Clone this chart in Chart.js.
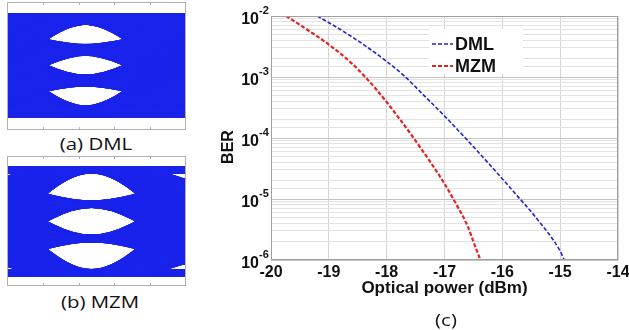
<!DOCTYPE html>
<html>
<head>
<meta charset="utf-8">
<script src="https://cdn.jsdelivr.net/npm/chart.js@4.4.1/dist/chart.umd.min.js"></script>
<style>
html, body { margin: 0; padding: 0; background: #fff; }
#wrap { position: relative; width: 629px; height: 330px; overflow: hidden; }
canvas { position: absolute; }
.cap { position: absolute; font-family: "Open Sans", sans-serif; font-size: 17px; color: #111;
       white-space: nowrap; transform: translate(-50%, -50%) scaleX(1.2); }
</style>
</head>
<body>
<div id="wrap">
  <canvas id="eyeA" width="179" height="128" style="left:7px;top:2px"></canvas>
  <canvas id="eyeB" width="179" height="130" style="left:7px;top:156px"></canvas>
  <canvas id="ber" width="424" height="330" style="left:205px;top:0"></canvas>
  <div class="cap" style="left:96px;top:143px">(a) DML</div>
  <div class="cap" style="left:100px;top:301px">(b) MZM</div>
  <div class="cap" style="left:446px;top:319px">(c)</div>
</div>
<script>
// BER curves
const POWER_DML = [-19.2, -18.8, -18.4, -18.0, -17.7, -17.4, -17.0, -16.6, -16.2, -15.8, -15.4, -15.0, -14.93];
const BER_DML = [1.0e-2, 6.0e-3, 3.4e-3, 1.8e-3, 1.05e-3, 5.5e-4, 2.3e-4, 9.1e-5, 3.5e-5, 1.3e-5, 4.7e-6, 1.4e-6, 1.0e-6];
const POWER_MZM = [-19.74, -19.4, -19.0, -18.6, -18.2, -17.8, -17.4, -17.0, -16.8, -16.6, -16.5, -16.38];
const BER_MZM = [1.0e-2, 6.2e-3, 3.4e-3, 1.66e-3, 6.6e-4, 2.2e-4, 6.6e-5, 1.78e-5, 8.3e-6, 3.6e-6, 2.0e-6, 1.0e-6];
const SERIES_NAMES = ["DML", "MZM"];
const X_TICKS = [-20, -19, -18, -17, -16, -15, -14];
const Y_EXPONENTS = [-2, -3, -4, -5, -6];

// PAM4 eye diagrams: levels, symbol centres (UI) and the spread of the traces
const EYE_LEVELS = [-3, -1, 1, 3];
const EYE_SYMBOL_TIMES = [-1.5, -0.5, 0.5, 1.5, 2.5];
const DML_HOLD = 0.05;
const DML_LEVEL_SPREAD = [-0.32, -0.21, -0.1, 0, 0.1, 0.21, 0.32];
const DML_TIME_SPREAD = [-0.06, 0, 0.06];
const MZM_HOLD = 0.08;
const MZM_LEVEL_SPREAD = [-0.18, -0.09, 0, 0.09, 0.18];
const MZM_TIME_SPREAD = [-0.08, -0.04, 0, 0.04, 0.08];

const FONT = '"Liberation Sans", Arial, sans-serif';
const EYE_COLOR = "rgb(25,35,235)";
Chart.defaults.font.family = FONT;

var eyeFrame = {
    id: "eyeFrame",
    afterDraw: function (chart) {
        var a = chart.chartArea, ctx = chart.ctx, sx = chart.scales.x;
        ctx.save();
        ctx.strokeStyle = "#b0b0b0";
        ctx.lineWidth = 1;
        ctx.strokeRect(a.left + 0.5, a.top + 0.5, a.width - 1, a.height - 1);
        sx.ticks.forEach(function (t) {
            var px = Math.round(sx.getPixelForValue(t.value)) + 0.5;
            ctx.beginPath();
            ctx.moveTo(px, a.top); ctx.lineTo(px, a.top + 3);
            ctx.moveTo(px, a.bottom); ctx.lineTo(px, a.bottom - 3);
            ctx.stroke();
        });
        ctx.restore();
    }
};

function makeEye(id, hold, levelSpread, timeSpread, lineWidth, xMin, xMax, yMin, yMax) {
    var datasets = [];
    EYE_LEVELS.forEach(function (a) {
        EYE_LEVELS.forEach(function (b) {
            EYE_LEVELS.forEach(function (c) {
                var seq = [a, a, b, c, c];
                levelSpread.forEach(function (dl) {
                    timeSpread.forEach(function (dt) {
                        var pts = [];
                        seq.forEach(function (v, k) {
                            pts.push({ x: EYE_SYMBOL_TIMES[k] - hold + dt, y: v + dl });
                            pts.push({ x: EYE_SYMBOL_TIMES[k] + hold + dt, y: v + dl });
                        });
                        datasets.push({
                            data: pts,
                            borderColor: EYE_COLOR,
                            borderWidth: lineWidth,
                            pointRadius: 0,
                            cubicInterpolationMode: "monotone"
                        });
                    });
                });
            });
        });
    });
    return new Chart(document.getElementById(id), {
        type: "line",
        data: { datasets: datasets },
        options: {
            responsive: false,
            animation: false,
            events: [],
            layout: { padding: 0 },
            plugins: { legend: { display: false }, tooltip: { enabled: false } },
            scales: {
                x: { type: "linear", display: false, min: xMin, max: xMax, ticks: { count: 11 } },
                y: { type: "linear", display: false, min: yMin, max: yMax }
            }
        },
        plugins: [eyeFrame]
    });
}

makeEye("eyeA", DML_HOLD, DML_LEVEL_SPREAD, DML_TIME_SPREAD, 1.8, 0.047, 1.08, -4.2, 4.1);
makeEye("eyeB", MZM_HOLD, MZM_LEVEL_SPREAD, MZM_TIME_SPREAD, 1.5, 0.043, 1.011, -3.76, 3.8);

var berDecor = {
    id: "berDecor",
    afterDraw: function (chart) {
        var ctx = chart.ctx, a = chart.chartArea, y = chart.scales.y;
        ctx.save();
        ctx.strokeStyle = "#a0a0a0";
        ctx.lineWidth = 1;
        ctx.strokeRect(a.left + 0.5, a.top + 0.5, a.width - 1, a.height - 1);

        ctx.fillStyle = "#111";
        Y_EXPONENTS.forEach(function (e) {
            var py = y.getPixelForValue(Math.pow(10, e));
            ctx.font = "bold 16px " + FONT;
            ctx.textAlign = "right";
            ctx.textBaseline = "alphabetic";
            ctx.fillText("10", a.left - 12, py + 8);
            ctx.font = "bold 11px " + FONT;
            ctx.textAlign = "left";
            ctx.fillText(String(e), a.left - 12, py - 2);
        });

        ctx.save();
        ctx.translate(a.left - 42, 147);
        ctx.rotate(-Math.PI / 2);
        ctx.font = "bold 16px " + FONT;
        ctx.textAlign = "center";
        ctx.textBaseline = "middle";
        ctx.fillText("BER", 0, 0);
        ctx.restore();

        // legend box inside the plot
        ctx.fillStyle = "#fff";
        ctx.fillRect(a.left + 158, a.top + 13, 94, 45);
        chart.data.datasets.forEach(function (ds, i) {
            var ly = a.top + 28 + i * 22;
            ctx.strokeStyle = ds.borderColor;
            ctx.lineWidth = ds.borderWidth;
            ctx.setLineDash(ds.borderDash);
            ctx.beginPath();
            ctx.moveTo(a.left + 161, ly);
            ctx.lineTo(a.left + 182, ly);
            ctx.stroke();
            ctx.setLineDash([]);
            ctx.fillStyle = "#111";
            ctx.font = "bold 18px " + FONT;
            ctx.textAlign = "left";
            ctx.textBaseline = "middle";
            ctx.fillText(ds.label, a.left + 184, ly + 1);
        });
        ctx.restore();
    }
};

function toPoints(xs, ys) {
    return xs.map(function (x, i) { return { x: x, y: ys[i] }; });
}

new Chart(document.getElementById("ber"), {
    type: "line",
    data: {
        datasets: [
            {
                label: SERIES_NAMES[0],
                data: toPoints(POWER_DML, BER_DML),
                borderColor: "#2626c4",
                borderWidth: 1.6,
                borderDash: [4, 2],
                pointRadius: 0,
                cubicInterpolationMode: "monotone"
            },
            {
                label: SERIES_NAMES[1],
                data: toPoints(POWER_MZM, BER_MZM),
                borderColor: "#e02424",
                borderWidth: 2.2,
                borderDash: [4, 2],
                pointRadius: 0,
                cubicInterpolationMode: "monotone"
            }
        ]
    },
    options: {
        responsive: false,
        animation: false,
        events: [],
        layout: { padding: { top: 16, right: 11, bottom: 30, left: 0 } },
        plugins: { legend: { display: false }, tooltip: { enabled: false } },
        scales: {
            x: {
                type: "linear",
                min: -20,
                max: -14,
                afterBuildTicks: function (s) { s.ticks = X_TICKS.map(function (v) { return { value: v }; }); },
                afterFit: function (s) { s.height = 40; s.paddingLeft = 0; s.paddingRight = 0; },
                grid: { color: "#d4d4d4", drawTicks: false },
                border: { display: false },
                ticks: { color: "#111", font: { size: 16, weight: "bold" }, padding: 3, maxRotation: 0, autoSkip: false },
                title: { display: true, text: "Optical power (dBm)", color: "#111", font: { size: 17, weight: "bold" }, padding: { top: 0, bottom: 1 } }
            },
            y: {
                type: "logarithmic",
                min: 1e-6,
                max: 1e-2,
                afterFit: function (s) { s.width = 66; },
                grid: {
                    drawTicks: false,
                    color: function (c) {
                        var e = Math.log10(c.tick.value);
                        return Math.abs(e - Math.round(e)) < 1e-6 ? "#c4c4c4" : "#e3e3e3";
                    }
                },
                border: { display: false },
                ticks: { display: false }
            }
        }
    },
    plugins: [berDecor]
});
</script>
</body>
</html>
